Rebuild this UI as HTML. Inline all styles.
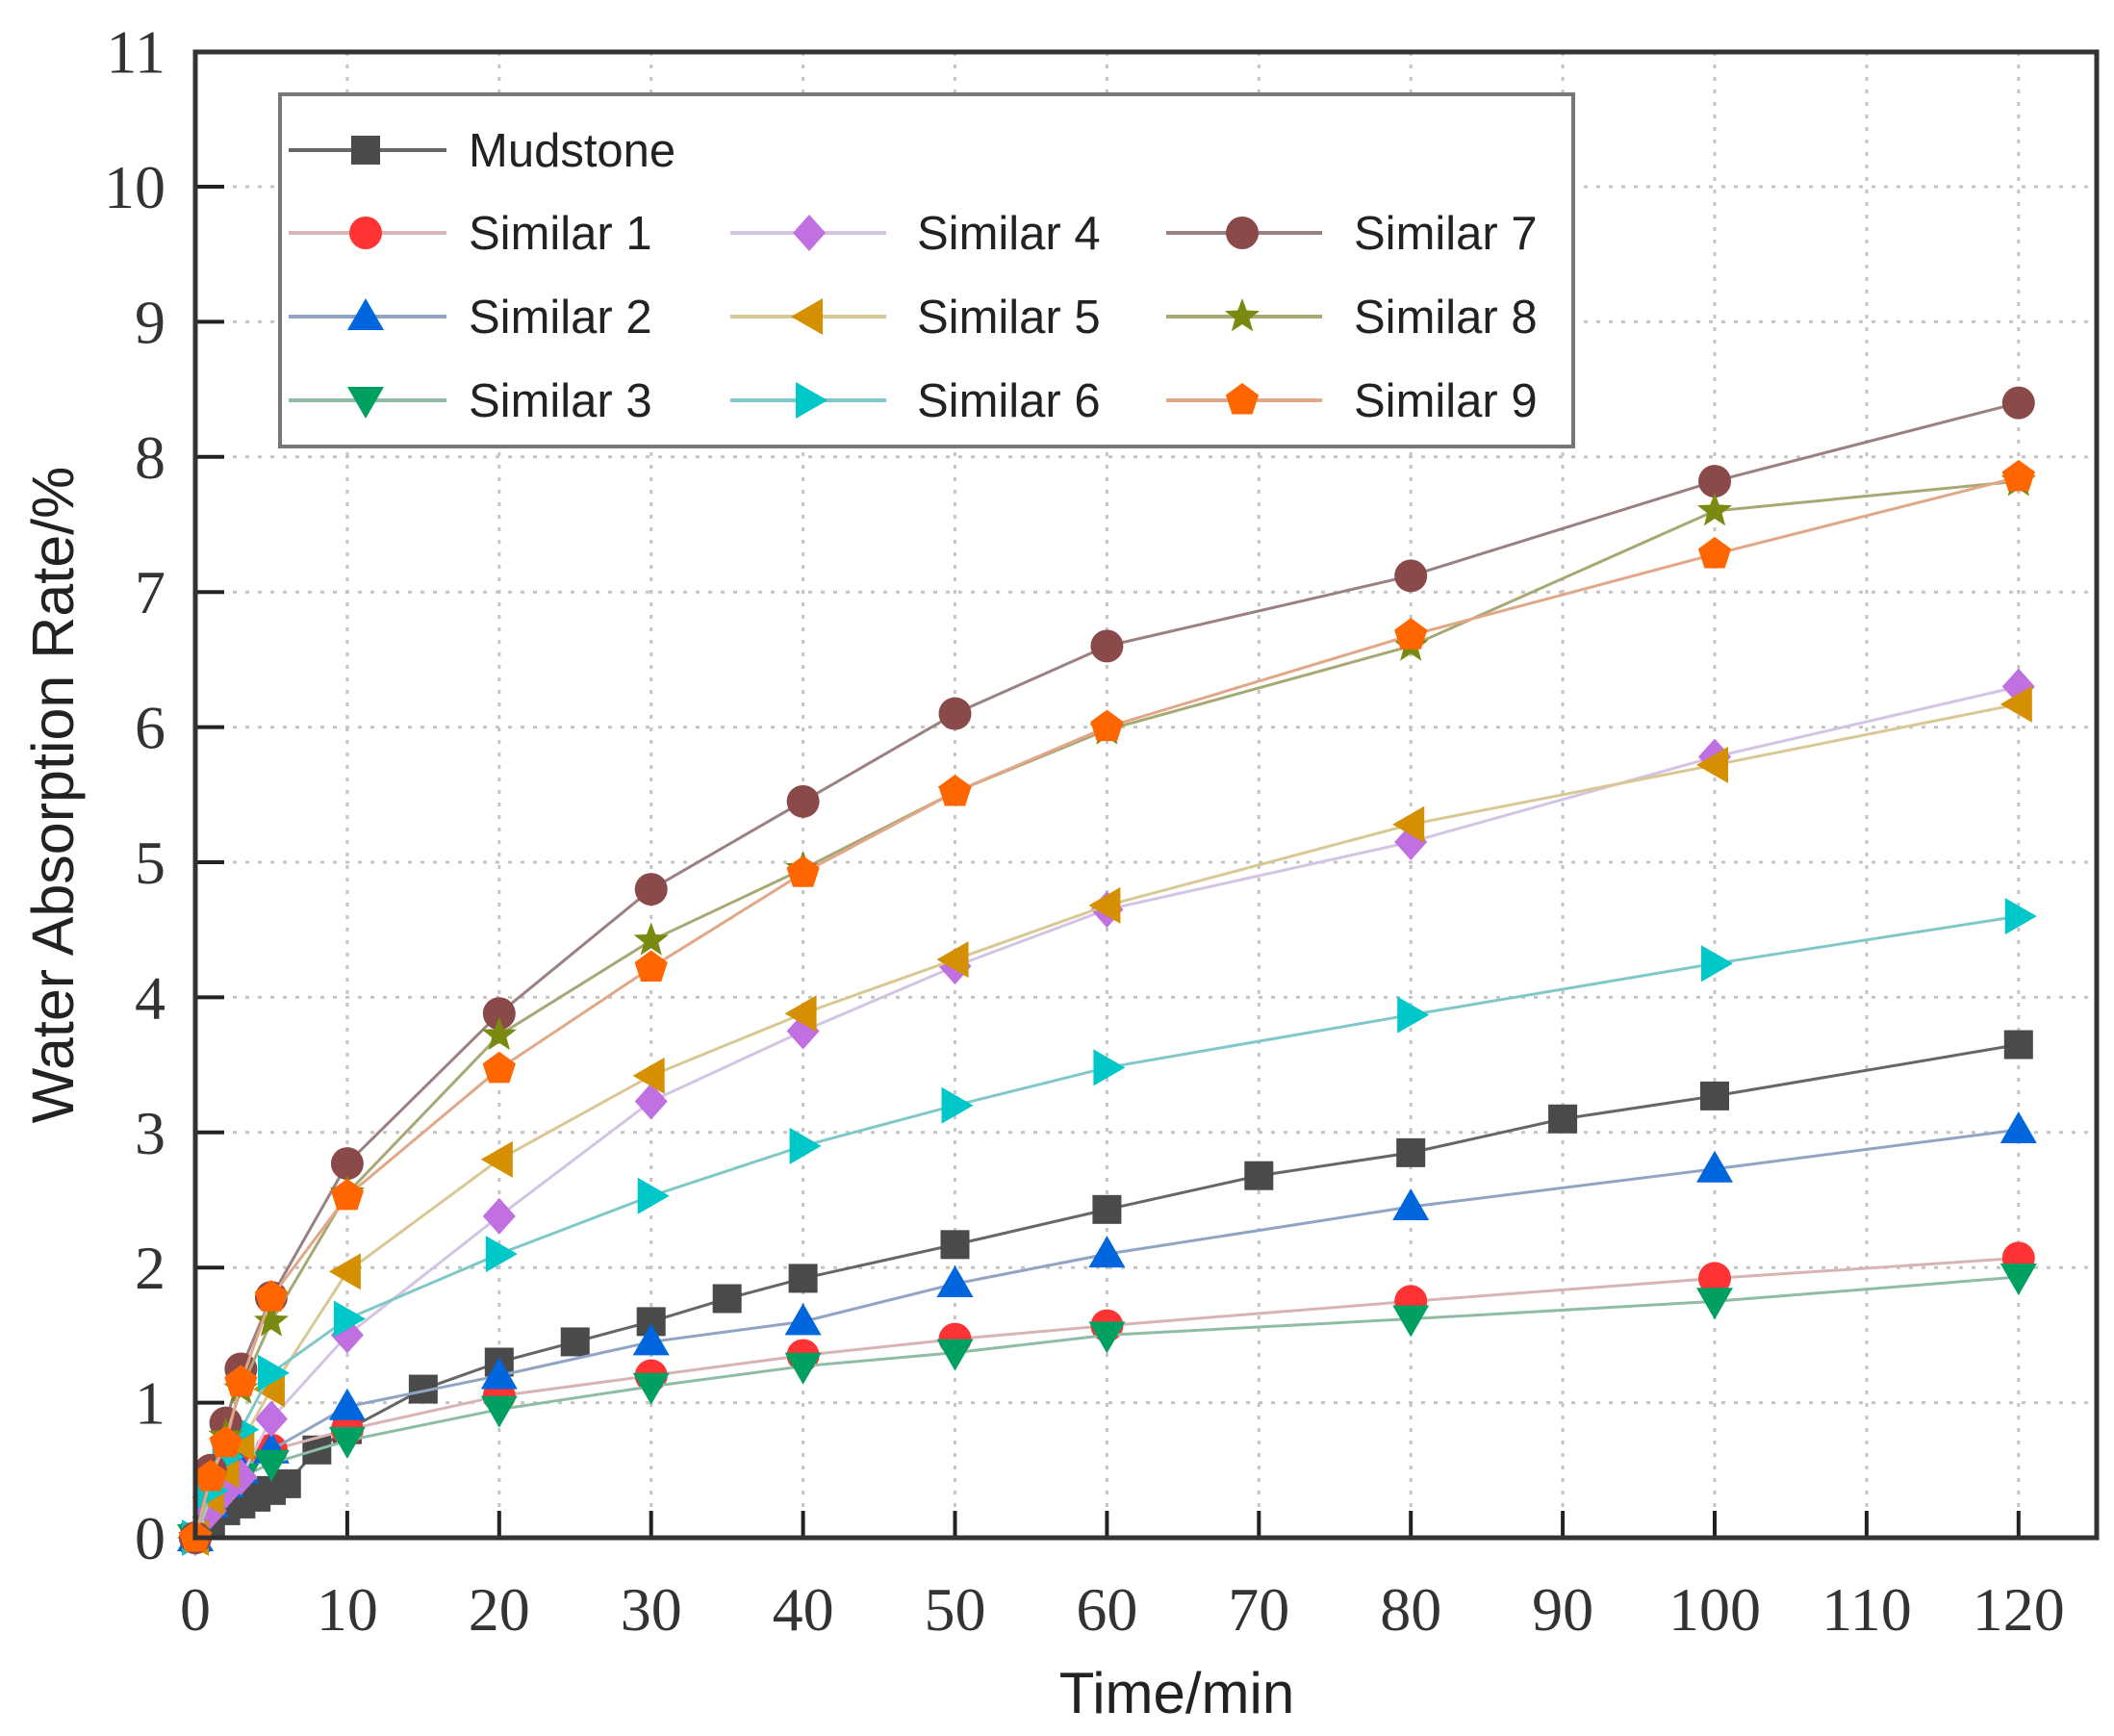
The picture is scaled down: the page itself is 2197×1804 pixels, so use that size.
<!DOCTYPE html>
<html><head><meta charset="utf-8"><style>
html,body{margin:0;padding:0;background:#fff;}
svg{display:block;}
</style></head><body>
<svg id="chart" width="2197" height="1804" viewBox="0 0 2197 1804" xmlns="http://www.w3.org/2000/svg">
<g id="grid"></g>
<g id="series"></g>
<g id="axes"></g>
<g id="legend"></g>
<text x="1223" y="1780" font-family="Liberation Sans, sans-serif" font-size="60" text-anchor="middle" fill="#222">Time/min</text>
<text transform="translate(76,826) rotate(-90)" font-family="Liberation Sans, sans-serif" font-size="61" text-anchor="middle" fill="#222">Water Absorption Rate/%</text>
</svg>
<script>
const xTicks=[0,10,20,30,40,50,60,70,80,90,100,110,120];
const yTicks=[0,1,2,3,4,5,6,7,8,9,10,11];
const tMud=[0,1,2,3,4,5,6,8,10,15,20,25,30,35,40,50,60,70,80,90,100,120];
const vMud=[0,0.1,0.2,0.25,0.3,0.35,0.4,0.65,0.8,1.1,1.3,1.45,1.6,1.77,1.92,2.17,2.43,2.68,2.85,3.1,3.27,3.65];
const tSim=[0,1,2,3,5,10,20,30,40,50,60,80,100,120];
const vS1=[0,0.3,0.45,0.55,0.65,0.8,1.05,1.2,1.35,1.47,1.57,1.75,1.92,2.07];
const vS2=[0,0.25,0.4,0.5,0.65,0.97,1.2,1.45,1.6,1.88,2.1,2.45,2.73,3.02];
const vS3=[0,0.2,0.35,0.45,0.55,0.72,0.95,1.12,1.27,1.37,1.5,1.62,1.75,1.93];
const vS4=[0,0.2,0.35,0.45,0.88,1.5,2.38,3.23,3.75,4.23,4.65,5.15,5.78,6.3];
const vS5=[0,0.3,0.5,0.7,1.1,1.97,2.8,3.42,3.88,4.28,4.68,5.28,5.72,6.17];
const vS6=[0,0.35,0.6,0.8,1.22,1.62,2.1,2.53,2.9,3.2,3.48,3.87,4.25,4.6];
const vS7=[0,0.5,0.85,1.25,1.78,2.77,3.88,4.8,5.45,6.1,6.6,7.12,7.82,8.4];
const vS8=[0,0.45,0.75,1.1,1.6,2.55,3.72,4.42,4.95,5.52,5.98,6.6,7.6,7.82];
const vS9=[0,0.45,0.7,1.15,1.78,2.53,3.47,4.22,4.92,5.52,6.0,6.68,7.28,7.85];
const names=["Mudstone","Similar 1","Similar 2","Similar 3","Similar 4","Similar 5","Similar 6","Similar 7","Similar 8","Similar 9"];

const NS="http://www.w3.org/2000/svg";
const X0=203,X1=2179,Y0=1598,YT=54;
const sx=v=>203+v*15.79;
const sy=v=>1598-v*140.4;
function mk(tag,attrs,parent){const e=document.createElementNS(NS,tag);for(const k in attrs)e.setAttribute(k,attrs[k]);parent.appendChild(e);return e;}
const grid=document.getElementById('grid'),axes=document.getElementById('axes'),ser=document.getElementById('series'),leg=document.getElementById('legend');

xTicks.forEach(t=>{
  if(t>0){const g=mk('line',{x1:sx(t),x2:sx(t),y1:YT,y2:Y0,stroke:'#c4c4c4','stroke-width':3,'stroke-dasharray':'4 9'},grid);
  
  }
  const tk=mk('line',{x1:sx(t),x2:sx(t),y1:Y0,y2:Y0-28,stroke:'#222','stroke-width':4},axes);
  
  
  const lb=mk('text',{x:sx(t),y:1694,'text-anchor':'middle','font-family':'Liberation Serif, serif','font-size':64,fill:'#333'},axes);
  lb.textContent=t;
  
  
});
yTicks.forEach(t=>{
  if(t>0&&t<11){const g=mk('line',{x1:X0,x2:X1,y1:sy(t),y2:sy(t),stroke:'#c4c4c4','stroke-width':3,'stroke-dasharray':'4 9'},grid);
  
  }
  const tk=mk('line',{x1:X0,x2:X0+30,y1:sy(t),y2:sy(t),stroke:'#222','stroke-width':4},axes);
  
  
  const lb=mk('text',{x:172,y:sy(t)+22,'text-anchor':'end','font-family':'Liberation Serif, serif','font-size':64,fill:'#333'},axes);
  lb.textContent=t;
  
  
});
const frame=mk('rect',{x:X0,y:YT,width:X1-X0,height:Y0-YT,fill:'none',stroke:'#333','stroke-width':5},axes);



const styles=[
 {c:'#4a4a4a',l:'#666',m:'square'},
 {c:'#ff3333',l:'#d8b4b4',m:'circle'},
 {c:'#0066dd',l:'#90a4c4',m:'up'},
 {c:'#00a060',l:'#8fbca4',m:'down'},
 {c:'#c070e0',l:'#d4c4e4',m:'diamond'},
 {c:'#d49000',l:'#d8c894',m:'left'},
 {c:'#00c8c8',l:'#80c8c8',m:'right'},
 {c:'#8a4a4a',l:'#9a8080',m:'circle'},
 {c:'#7a8a10',l:'#a8a874',m:'star'},
 {c:'#ff6600',l:'#e0a888',m:'pentagon'}];
const seriesT=[tMud,tSim,tSim,tSim,tSim,tSim,tSim,tSim,tSim,tSim];
const seriesV=[vMud,vS1,vS2,vS3,vS4,vS5,vS6,vS7,vS8,vS9];

function marker(type,x,y,color,parent){
  const r=17;let e;
  if(type==='square')e=mk('rect',{x:x-15,y:y-15,width:30,height:30,fill:color},parent);
  else if(type==='circle')e=mk('circle',{cx:x,cy:y,r:r,fill:color},parent);
  else{let pts;
    if(type==='up')pts=[[0,-19],[19,14],[-19,14]];
    else if(type==='down')pts=[[0,19],[19,-14],[-19,-14]];
    else if(type==='left')pts=[[-19,0],[14,-19],[14,19]];
    else if(type==='right')pts=[[19,0],[-14,-19],[-14,19]];
    else if(type==='diamond')pts=[[0,-19],[17,0],[0,19],[-17,0]];
    else if(type==='pentagon'){pts=[];for(let i=0;i<5;i++){const a=-Math.PI/2+i*2*Math.PI/5;pts.push([18*Math.cos(a),18*Math.sin(a)]);}}
    else {pts=[];for(let i=0;i<10;i++){const a=-Math.PI/2+i*Math.PI/5,rr=i%2?8:19;pts.push([rr*Math.cos(a),rr*Math.sin(a)]);}}
    e=mk('polygon',{points:pts.map(p=>(x+p[0])+','+(y+p[1])).join(' '),fill:color},parent);}
  return e;
}
seriesV.forEach((vals,i)=>{
  const g=mk('g',{},ser);
  
  
  const ts=seriesT[i];
  const pl=mk('polyline',{points:vals.map((v,j)=>sx(ts[j])+','+sy(v)).join(' '),fill:'none',stroke:styles[i].l,'stroke-width':3},g);
  
  
  vals.forEach((v,j)=>{const m=marker(styles[i].m,sx(ts[j]),sy(v),styles[i].c,g);
    
    });
});

const box=mk('rect',{x:291,y:98,width:1344,height:366,fill:'#fff',stroke:'#777','stroke-width':4},leg);


const rows=[156,242,329,416];
const cols=[[300,464,380,487],[759,921,841,953],[1212,1374,1291,1407]];
const layout=[[0,0,0],[1,0,1],[2,0,2],[3,0,3],[4,1,1],[5,1,2],[6,1,3],[7,2,1],[8,2,2],[9,2,3]];
layout.forEach(([i,c,r])=>{
  const g=mk('g',{},leg);
  
  
  const col=cols[c],y=rows[r];
  mk('line',{x1:col[0],x2:col[1],y1:y,y2:y,stroke:styles[i].l,'stroke-width':4},g);
  marker(styles[i].m,col[2],y,styles[i].c,g);
  const t=mk('text',{x:col[3],y:y+17,'font-family':'Liberation Sans, sans-serif','font-size':49,fill:'#222'},g);
  t.textContent=names[i];
});
</script>
</body></html>
